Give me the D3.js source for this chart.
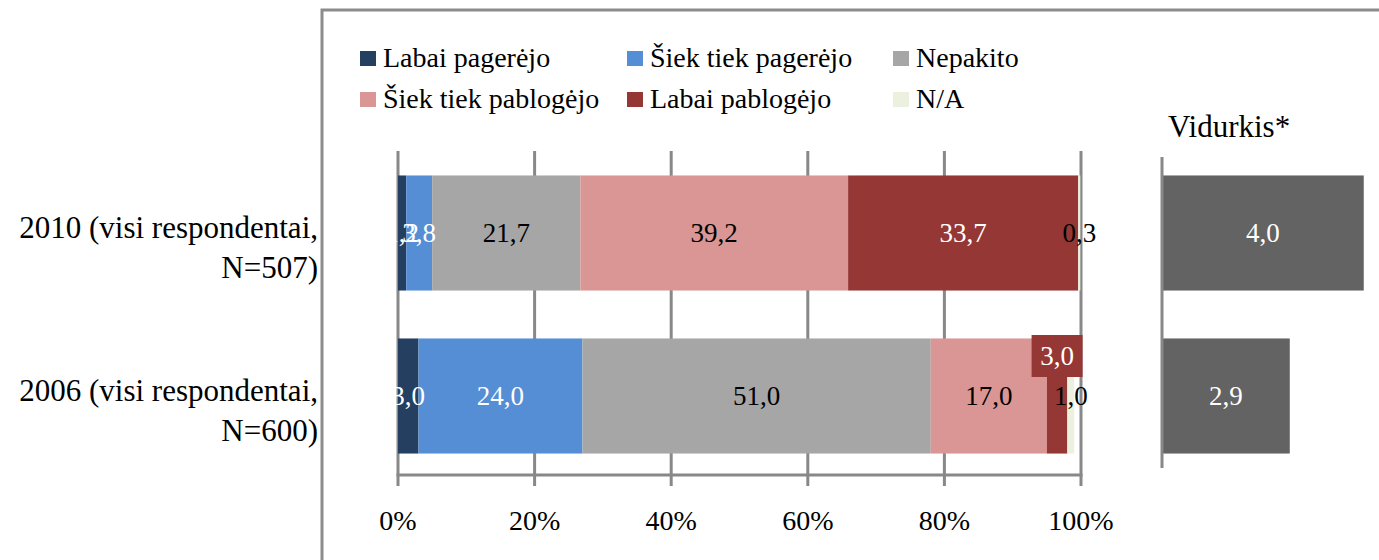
<!DOCTYPE html>
<html><head><meta charset="utf-8">
<script src="https://cdn.jsdelivr.net/npm/d3@7"></script>
<style>
html,body{margin:0;padding:0;background:#fff;}
</style></head>
<body>
<svg id="chart" width="1379" height="560" font-family="'Liberation Serif', 'DejaVu Serif', serif"></svg>
<script>
// ---- data ----
const rows = ["2010", "2006"];
const rowLabels = [["2010 (visi respondentai,", "N=507)"], ["2006 (visi respondentai,", "N=600)"]];
const seriesNames = ["Labai pagerėjo", "Šiek tiek pagerėjo", "Nepakito", "Šiek tiek pablogėjo", "Labai pablogėjo", "N/A"];
const values2010 = [1.2, 3.8, 21.7, 39.2, 33.7, 0.3];
const values2006 = [3.0, 24.0, 51.0, 17.0, 3.0, 1.0];
const meanValues = [4.0, 2.9];
const xTicks = [0, 20, 40, 60, 80, 100];
const meanTitle = "Vidurkis*";

// ---- style ----
const colors = ["#243F60", "#558ED5", "#A6A6A6", "#D99694", "#953735", "#EBF1DE"];
const labelColors = ["#fff", "#fff", "#000", "#000", "#fff", "#000"];
const meanColor = "#636363";
const gridColor = "#888888";
const FONT = "Liberation Serif";
const FS = 27;

const svg = d3.select("#chart");
const valuesByRow = [values2010, values2006];

function txt(sel) {
  return sel.attr("font-family", FONT).style("font-family", "'Liberation Serif', 'DejaVu Serif', serif");
}

// frame
svg.append("path")
  .attr("d", "M322,560 L322,10 L1379,10")
  .attr("fill", "none").attr("stroke", "#8c8c8c").attr("stroke-width", 3);

const x = d3.scaleLinear().domain([0, 100]).range([398, 1081]);
const y = d3.scaleBand().domain(rows).range([151.5, 477.5]).paddingInner(0.294).paddingOuter(0.147);

// gridlines
svg.append("g").selectAll("line").data(xTicks).join("line")
  .attr("x1", d => x(d)).attr("x2", d => x(d))
  .attr("y1", 151).attr("y2", 486)
  .attr("stroke", gridColor).attr("stroke-width", 3);

// stacked bars
const stackData = rows.map((r, i) => {
  const o = {row: r};
  seriesNames.forEach((s, j) => o[s] = valuesByRow[i][j]);
  return o;
});
const stacked = d3.stack().keys(seriesNames)(stackData);

const gBars = svg.append("g");
stacked.forEach((layer, si) => {
  gBars.selectAll(null).data(layer).join("rect")
    .attr("x", d => x(d[0]))
    .attr("width", d => x(d[1]) - x(d[0]))
    .attr("y", d => y(d.data.row))
    .attr("height", y.bandwidth())
    .attr("fill", colors[si]);
});

// axis line
svg.append("line").attr("x1", x(0) - 1.5).attr("x2", x(100) + 1.5)
  .attr("y1", 475).attr("y2", 475)
  .attr("stroke", gridColor).attr("stroke-width", 3);

// data labels
const fmt = v => d3.format(".1f")(v).replace(".", ",");
const gLab = svg.append("g");
stacked.forEach((layer, si) => {
  layer.forEach(d => {
    const cx = (x(d[0]) + x(d[1])) / 2;
    const cy = y(d.data.row) + y.bandwidth() / 2;
    const val = d[1] - d[0];
    const lifted = (d.data.row === "2006" && si === 4);
    if (lifted) {
      const bw = 51, bh = 42, by = cy - 61;
      gLab.append("rect").attr("x", cx - bw / 2).attr("y", by)
        .attr("width", bw).attr("height", bh).attr("fill", colors[si]);
      txt(gLab.append("text")).attr("x", cx).attr("y", by + bh / 2 + 9)
        .attr("text-anchor", "middle").attr("font-size", FS)
        .attr("fill", "#fff").text(fmt(val));
    } else {
      txt(gLab.append("text")).attr("x", cx).attr("y", cy + 9)
        .attr("text-anchor", "middle").attr("font-size", FS)
        .attr("fill", labelColors[si]).text(fmt(val));
    }
  });
});

// tick labels
txt(svg.append("g").selectAll("text").data(xTicks).join("text"))
  .attr("x", d => x(d)).attr("y", 530)
  .attr("text-anchor", "middle").attr("font-size", 28).attr("fill", "#000")
  .text(d => d + "%");

// row labels
rows.forEach((r, i) => {
  const cy = y(r) + y.bandwidth() / 2;
  const t = txt(svg.append("text")).attr("text-anchor", "end").attr("font-size", 31).attr("fill", "#000");
  t.append("tspan").attr("x", 318).attr("y", cy + 5).text(rowLabels[i][0]);
  t.append("tspan").attr("x", 318).attr("y", cy + 45).text(rowLabels[i][1]);
});

// legend
const legCols = [360, 627, 893];
const legRows = [51, 92];
seriesNames.forEach((s, i) => {
  const lx = legCols[i % 3], ly = legRows[Math.floor(i / 3)];
  svg.append("rect").attr("x", lx).attr("y", ly).attr("width", 16).attr("height", 15).attr("fill", colors[i]);
  txt(svg.append("text")).attr("x", lx + 23).attr("y", ly + 16).attr("font-size", 28).attr("fill", "#000").text(s);
});

// mean panel
const xm = d3.scaleLinear().domain([1, 5]).range([1162, 1431]);
svg.append("g").selectAll("rect").data(meanValues).join("rect")
  .attr("x", xm(1)).attr("width", d => xm(d) - xm(1))
  .attr("y", (d, i) => y(rows[i])).attr("height", y.bandwidth())
  .attr("fill", meanColor);
svg.append("line").attr("x1", 1162).attr("x2", 1162).attr("y1", 157).attr("y2", 468)
  .attr("stroke", gridColor).attr("stroke-width", 3);
txt(svg.append("g").selectAll("text").data(meanValues).join("text"))
  .attr("x", d => (xm(1) + xm(d)) / 2)
  .attr("y", (d, i) => y(rows[i]) + y.bandwidth() / 2 + 9)
  .attr("text-anchor", "middle").attr("font-size", FS).attr("fill", "#fff")
  .text(d => fmt(d));
txt(svg.append("text")).attr("x", 1168).attr("y", 137).attr("font-size", 31).attr("fill", "#000").text(meanTitle);
</script>
</body></html>
